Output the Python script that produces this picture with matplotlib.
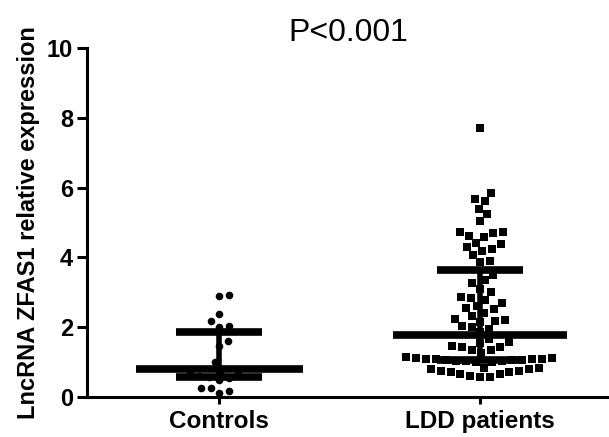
import numpy as np
import matplotlib
matplotlib.use("Agg")
import matplotlib.pyplot as plt

plt.rcParams['font.family'] = ['Liberation Sans', 'DejaVu Sans']

groups = ["Controls", "LDD patients"]
controls = [2.92, 2.89, 2.38, 2.18, 2.03, 2.00, 1.60, 1.46, 1.00, 0.78,
            0.72, 0.66, 0.60, 0.56, 0.54, 0.50, 0.26, 0.26, 0.17, 0.11]
ldd = [7.71, 5.85, 5.67, 5.62, 5.39, 5.24, 5.04, 4.73, 4.73, 4.70,
       4.61, 4.58, 4.41, 4.38, 4.30, 4.24, 4.18, 4.07, 3.90, 3.87,
       3.50, 3.35, 3.27, 3.10, 3.00, 2.87, 2.84, 2.78, 2.69, 2.60,
       2.55, 2.52, 2.41, 2.32, 2.25, 2.21, 2.18, 2.15, 2.03, 2.00,
       1.95, 1.85, 1.65, 1.58, 1.55, 1.46, 1.43, 1.43, 1.35, 1.35,
       1.25, 1.15, 1.12, 1.12, 1.10, 1.09, 1.09, 1.08, 1.07, 1.06,
       1.05, 1.04, 1.03, 1.02, 1.01, 1.00, 0.83, 0.83, 0.80, 0.80,
       0.74, 0.74, 0.72, 0.72, 0.66, 0.66, 0.60, 0.57, 0.57]
centers = [0.80, 1.78]
lowers = [0.57, 1.06]
uppers = [1.86, 3.64]
yticks = [0, 2, 4, 6, 8, 10]


def swarm(yvals, diam):
    # simple beeswarm, works in pixel units
    placed = []
    out = np.zeros(len(yvals))
    for i in np.argsort(yvals):
        y = yvals[i]
        cands = [0.0]
        for (px, py) in placed:
            dy = y - py
            if abs(dy) < diam:
                dx = np.sqrt(diam ** 2 - dy ** 2)
                cands += [px + dx, px - dx]
        cands.sort(key=abs)
        for c in cands:
            if all((c - px) ** 2 + (y - py) ** 2 >= diam ** 2 - 1e-6 for (px, py) in placed):
                out[i] = c
                placed.append((c, y))
                break
    return out


fig = plt.figure(figsize=(6.09, 4.37), dpi=100)
ax = fig.add_axes([0.143, 0.0915, 0.857, 0.7985])
ax.set_xlim(-0.506, 1.494)
ax.set_ylim(0, 10)

sx = fig.dpi * 6.09 * 0.857 / 2.0
sy = fig.dpi * 4.37 * 0.7985 / 10.0

for i, (vals, mk) in enumerate([(controls, 'o'), (ldd, 's')]):
    v = np.array(vals)
    off = swarm(v * sy, 10.0) / sx
    ax.scatter(i + off, v, marker=mk, s=30, color='black', linewidths=0, zorder=2)

half_mean = [0.32, 0.333]
half_cap = 0.165
for i in range(2):
    ax.plot([i - half_mean[i], i + half_mean[i]], [centers[i]] * 2, color='black', lw=5.5,
            solid_capstyle='butt', zorder=3)
    ax.plot([i, i], [lowers[i], uppers[i]], color='black', lw=4, zorder=3)
    for yv in (lowers[i], uppers[i]):
        ax.plot([i - half_cap, i + half_cap], [yv] * 2, color='black', lw=5.5,
                solid_capstyle='butt', zorder=3)

ax.spines['top'].set_visible(False)
ax.spines['right'].set_visible(False)
ax.spines['left'].set_linewidth(2.2)
ax.spines['bottom'].set_linewidth(2.2)
ax.set_yticks(yticks)
ax.set_xticks([0, 1])
ax.set_xticklabels(groups, fontsize=17.5, fontweight='bold')
ax.tick_params(axis='y', labelsize=17, width=2.2, length=7, pad=3)
ax.tick_params(axis='x', width=2.2, length=5, pad=4)
for lb in ax.get_yticklabels():
    lb.set_fontweight('bold')
ax.set_ylabel("LncRNA ZFAS1 relative expression", fontsize=17, fontweight='bold', labelpad=5)
ax.set_title("P<0.001", fontsize=23, pad=1)

fig.savefig("out.png", dpi=100)
